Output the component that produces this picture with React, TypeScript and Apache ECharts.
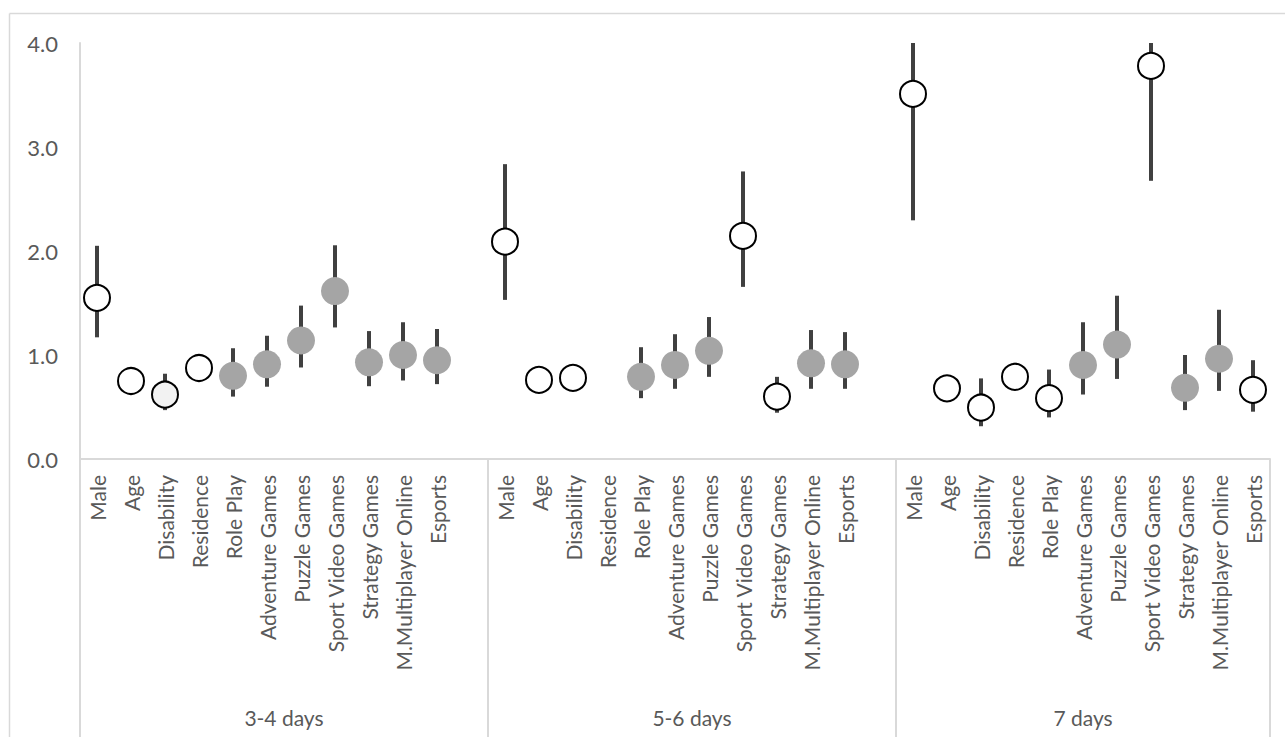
import React, { useEffect, useRef } from "react";
import * as echarts from "echarts";

const categories = [
  "Male", "Age", "Disability", "Residence", "Role Play", "Adventure Games",
  "Puzzle Games", "Sport Video Games", "Strategy Games", "M.Multiplayer Online", "Esports",
];
const groups = ["3-4 days", "5-6 days", "7 days"];
const yTicks = [0, 1, 2, 3, 4];

// o = open circle, g = grey filled, l = light filled with outline
const values34 = [1.55, 0.75, 0.62, 0.875, 0.8, 0.91, 1.14, 1.615, 0.93, 1.0, 0.95];
const low34 = [1.17, null, 0.47, null, 0.6, 0.695, 0.88, 1.265, 0.7, 0.755, 0.72];
const high34 = [2.05, null, 0.82, null, 1.065, 1.185, 1.475, 2.055, 1.23, 1.315, 1.25];
const kinds34 = ["o", "o", "l", "o", "g", "g", "g", "g", "g", "g", "g"];

const values56 = [2.09, 0.76, 0.78, null, 0.79, 0.905, 1.04, 2.145, 0.6, 0.92, 0.91];
const low56 = [1.53, null, null, null, 0.585, 0.675, 0.79, 1.655, 0.445, 0.675, 0.675];
const high56 = [2.835, null, null, null, 1.075, 1.2, 1.365, 2.765, 0.79, 1.24, 1.22];
const kinds56 = ["o", "o", "o", "o", "g", "g", "g", "o", "o", "g", "g"];

const values7 = [3.51, 0.68, 0.495, 0.79, 0.585, 0.905, 1.1, 3.78, 0.685, 0.965, 0.665];
const low7 = [2.295, null, 0.315, 0.67, 0.4, 0.62, 0.77, 2.675, 0.47, 0.655, 0.455];
const high7 = [4.0, null, 0.775, 0.925, 0.86, 1.315, 1.57, 4.0, 1.0, 1.435, 0.95];
const kinds7 = ["o", "o", "o", "o", "o", "g", "g", "o", "g", "g", "o"];

const groupValues = [values34, values56, values7];
const groupLows = [low34, low56, low7];
const groupHighs = [high34, high56, high7];
const groupKinds = [kinds34, kinds56, kinds7];

const FONT = "Lato, 'Open Sans', sans-serif";
const TEXT = "#595959";
const AXIS = "#d9d9d9";

export default function App() {
  const ref = useRef<HTMLDivElement>(null);
  useEffect(() => {
    if (!ref.current) return;
    const chart = echarts.init(ref.current, null, { renderer: "svg" });

    // build slots: each group followed by a blank slot except the last
    const xLabels: string[] = [];
    const groupStart: number[] = [];
    const points: any[] = [];
    const bars: any[] = [];
    groups.forEach((g, gi) => {
      groupStart.push(xLabels.length);
      categories.forEach((c, ci) => {
        const idx = xLabels.length;
        xLabels.push(c);
        const v = groupValues[gi][ci];
        const lo = groupLows[gi][ci];
        const hi = groupHighs[gi][ci];
        const k = groupKinds[gi][ci];
        if (v != null) {
          let itemStyle: any;
          let size = 26;
          if (k === "g") {
            itemStyle = { color: "#a5a5a5", borderWidth: 0, opacity: 1 };
            size = 28;
          } else if (k === "l") {
            itemStyle = { color: "#f2f2f2", borderColor: "#000", borderWidth: 2, opacity: 1 };
          } else {
            itemStyle = { color: "#ffffff", borderColor: "#000", borderWidth: 2, opacity: 1 };
          }
          points.push({ value: [idx, v], symbolSize: size, itemStyle });
        }
        if (lo != null && hi != null) bars.push([idx, lo, hi]);
      });
      if (gi < groups.length - 1) xLabels.push("");
    });
    groupStart.push(xLabels.length);

    chart.setOption({
      animation: false,
      textStyle: { fontFamily: FONT },
      grid: { left: 80, right: 15, top: 43, bottom: 278, containLabel: false },
      xAxis: {
        type: "category",
        data: xLabels,
        boundaryGap: true,
        axisLine: { show: true, lineStyle: { color: AXIS, width: 2 } },
        axisTick: { show: false },
        axisLabel: {
          interval: 0,
          rotate: 90,
          margin: 16,
          fontSize: 21,
          color: TEXT,
          fontFamily: FONT,
        },
        splitLine: { show: false },
      },
      yAxis: {
        type: "value",
        min: yTicks[0],
        max: yTicks[yTicks.length - 1],
        interval: 1,
        axisLine: { show: true, lineStyle: { color: AXIS, width: 2 } },
        axisTick: { show: false },
        splitLine: { show: false },
        axisLabel: {
          formatter: (v: number) => v.toFixed(1),
          fontSize: 22,
          margin: 22,
          color: TEXT,
          fontFamily: FONT,
        },
      },
      series: [
        {
          type: "custom",
          z: 2,
          data: bars,
          encode: { x: 0, y: [1, 2] },
          renderItem: (params: any, api: any) => {
            const x = api.value(0);
            const a = api.coord([x, api.value(1)]);
            const b = api.coord([x, api.value(2)]);
            return {
              type: "line",
              shape: { x1: a[0], y1: a[1], x2: b[0], y2: b[1] },
              style: { stroke: "#404040", lineWidth: 4 },
            };
          },
        },
        {
          type: "scatter",
          z: 3,
          symbol: "circle",
          itemStyle: { opacity: 1 },
          emphasis: { disabled: true },
          data: points,
        },
      ],
    });

    const p0 = chart.convertToPixel({ xAxisIndex: 0 }, 0) as number;
    const p1 = chart.convertToPixel({ xAxisIndex: 0 }, 1) as number;
    const band = p1 - p0;
    const bx = (k: number) => p0 - band / 2 + k * band;
    const yBase = chart.convertToPixel({ yAxisIndex: 0 }, 0) as number;
    const H = 737;

    const elements: any[] = [
      { type: "line", shape: { x1: 9.5, y1: 13.5, x2: 1285, y2: 13.5 }, style: { stroke: AXIS, lineWidth: 1.5 }, silent: true },
      { type: "line", shape: { x1: 9.5, y1: 13.5, x2: 9.5, y2: H }, style: { stroke: AXIS, lineWidth: 1.5 }, silent: true },
    ];
    groupStart.forEach((k) => {
      const x = Math.round(bx(k));
      elements.push({
        type: "line",
        shape: { x1: x, y1: yBase, x2: x, y2: H },
        style: { stroke: AXIS, lineWidth: 2 },
        silent: true,
      });
    });
    groups.forEach((g, gi) => {
      const cx = (bx(groupStart[gi]) + bx(groupStart[gi + 1])) / 2;
      elements.push({
        type: "text",
        x: cx,
        y: 717,
        style: {
          text: g,
          fill: TEXT,
          font: `21px ${FONT}`,
          align: "center",
          verticalAlign: "middle",
        },
        silent: true,
      });
    });
    chart.setOption({ graphic: { elements } });

    return () => chart.dispose();
  }, []);

  return (
    <div
      ref={ref}
      style={{ position: "fixed", left: 0, top: 0, width: 1285, height: 737, background: "#fff" }}
    />
  );
}
